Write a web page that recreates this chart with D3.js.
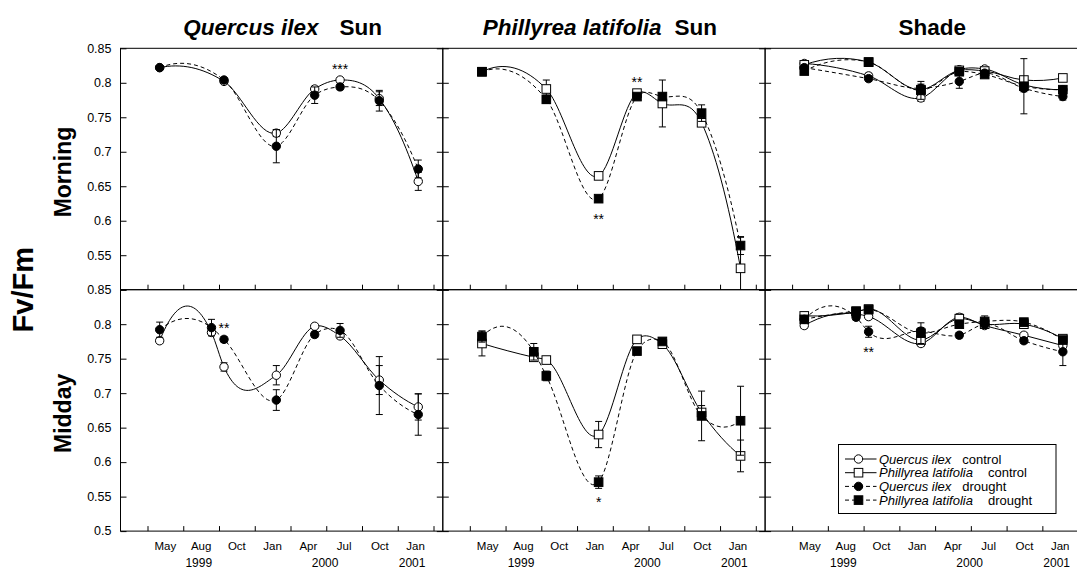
<!DOCTYPE html>
<html>
<head>
<meta charset="utf-8">
<script src="https://cdn.jsdelivr.net/npm/d3@7"></script>
<style>
  body { margin: 0; background: #fff; }
  svg text { font-family: "Liberation Sans", Arial, Helvetica, sans-serif; fill: #000; }
</style>
</head>
<body>
<svg id="chart" width="1077" height="570"></svg>
<script>
// ---- sampling dates (months since 1 Jan 1999) ----
const sampleMonths = [4.02, 8.37, 9.42, 13.81, 17.03, 19.16, 22.45, 25.72];

// ---- x axis: tick marks, quarter labels and year labels ----
const xTickMonths = [3, 6, 9, 12, 15, 18, 21, 24, 27];
const monthLabels = ["May", "Aug", "Oct", "Jan", "Apr", "Jul", "Oct", "Jan"];
const yearLabels = ["1999", "2000", "2001"];
const yearLabelMonths = [7.3, 17.9, 25.2];

// ---- y axis ----
const yTickValues = [0.5, 0.55, 0.6, 0.65, 0.7, 0.75, 0.8, 0.85];
const yLabelValuesTop = [0.55, 0.6, 0.65, 0.7, 0.75, 0.8, 0.85];
const yLabelValuesBottom = [0.5, 0.55, 0.6, 0.65, 0.7, 0.75, 0.8, 0.85];

// ---- Fv/Fm, morning: mean and standard error ----
const qiSunMorningCtrl   = [0.822, null, 0.802, 0.727, 0.791, 0.804, 0.777, 0.657];
const qiSunMorningCtrlSE = [0.003, null, 0.003, 0.005, 0.004, 0.003, 0.010, 0.013];
const qiSunMorningDry    = [0.822, null, 0.804, 0.708, 0.782, 0.794, 0.774, 0.675];
const qiSunMorningDrySE  = [0.003, null, 0.003, 0.024, 0.012, 0.004, 0.015, 0.013];

const plSunMorningCtrl   = [0.816, null, 0.791, 0.665, 0.785, 0.770, 0.742, 0.531];
const plSunMorningCtrlSE = [0.003, null, 0.013, 0.004, 0.004, 0.034, 0.004, 0.045];
const plSunMorningDry    = [0.816, null, 0.776, 0.632, 0.780, 0.780, 0.756, 0.564];
const plSunMorningDrySE  = [0.003, null, 0.006, 0.004, 0.004, 0.005, 0.012, 0.013];

const qiShadeMorningCtrl   = [0.828, null, 0.810, 0.778, 0.819, 0.820, 0.797, 0.790];
const qiShadeMorningCtrlSE = [0.004, null, 0.004, 0.005, 0.004, 0.003, 0.005, 0.004];
const plShadeMorningCtrl   = [0.826, null, 0.830, 0.790, 0.818, 0.817, 0.804, 0.807];
const plShadeMorningCtrlSE = [0.004, null, 0.004, 0.005, 0.004, 0.003, 0.005, 0.004];
const qiShadeMorningDry    = [0.822, null, 0.806, 0.792, 0.802, 0.814, 0.792, 0.780];
const qiShadeMorningDrySE  = [0.004, null, 0.004, 0.006, 0.010, 0.003, 0.005, 0.005];
const plShadeMorningDry    = [0.817, null, 0.830, 0.789, 0.816, 0.812, 0.795, 0.790];
const plShadeMorningDrySE  = [0.004, null, 0.004, 0.013, 0.004, 0.003, 0.040, 0.004];

// ---- Fv/Fm, midday: mean and standard error ----
const qiSunMiddayCtrl   = [0.776, 0.788, 0.738, 0.726, 0.797, 0.783, 0.719, 0.680];
const qiSunMiddayCtrlSE = [0.004, 0.004, 0.006, 0.014, 0.003, 0.004, 0.021, 0.019];
const qiSunMiddayDry    = [0.792, 0.795, 0.778, 0.690, 0.785, 0.791, 0.711, 0.669];
const qiSunMiddayDrySE  = [0.011, 0.012, 0.004, 0.015, 0.004, 0.010, 0.042, 0.030];

const plSunMiddayCtrl   = [0.772, 0.752, 0.748, 0.640, 0.778, 0.771, 0.672, 0.609];
const plSunMiddayCtrlSE = [0.018, 0.004, 0.004, 0.019, 0.004, 0.004, 0.010, 0.023];
const plSunMiddayDry    = [0.782, 0.760, 0.725, 0.571, 0.761, 0.775, 0.667, 0.660];
const plSunMiddayDrySE  = [0.008, 0.012, 0.007, 0.009, 0.004, 0.004, 0.036, 0.050];

const qiShadeMiddayCtrl   = [0.798, 0.815, 0.811, 0.772, 0.810, 0.798, 0.784, 0.769];
const qiShadeMiddayCtrlSE = [0.004, 0.004, 0.004, 0.004, 0.005, 0.004, 0.004, 0.004];
const plShadeMiddayCtrl   = [0.812, 0.818, 0.822, 0.777, 0.808, 0.800, 0.800, 0.779];
const plShadeMiddayCtrlSE = [0.004, 0.004, 0.004, 0.004, 0.004, 0.004, 0.004, 0.004];
const qiShadeMiddayDry    = [0.807, 0.810, 0.789, 0.790, 0.784, 0.800, 0.776, 0.760];
const qiShadeMiddayDrySE  = [0.004, 0.004, 0.008, 0.005, 0.004, 0.004, 0.004, 0.020];
const plShadeMiddayDry    = [0.807, 0.819, 0.821, 0.787, 0.800, 0.804, 0.803, 0.777];
const plShadeMiddayDrySE  = [0.004, 0.004, 0.004, 0.015, 0.004, 0.008, 0.004, 0.004];

// ---- significance of the drought effect ----
const sigMarks = [
  { col: 0, row: 0, idx: 5, text: "***", pos: "above" },
  { col: 1, row: 0, idx: 4, text: "**",  pos: "above" },
  { col: 1, row: 0, idx: 3, text: "**",  pos: "below" },
  { col: 0, row: 1, idx: 2, text: "**",  pos: "above" },
  { col: 1, row: 1, idx: 3, text: "*",   pos: "below" },
  { col: 2, row: 1, idx: 2, text: "**",  pos: "below" }
];

// ---- panel layout ----
const columnTitles = [
  { italic: "Quercus ilex", plain: "Sun", gap: 21, dx: 1 },
  { italic: "Phillyrea latifolia", plain: "Sun", gap: 13, dx: -4 },
  { italic: "", plain: "Shade", gap: 0, dx: 6 }
];
const rowTitles = ["Morning", "Midday"];

const series = (values, se, species, treat) => ({ values, se, species, treat });
const panels = [
  [ // morning
    [series(qiSunMorningCtrl, qiSunMorningCtrlSE, "q", "c"), series(qiSunMorningDry, qiSunMorningDrySE, "q", "d")],
    [series(plSunMorningCtrl, plSunMorningCtrlSE, "p", "c"), series(plSunMorningDry, plSunMorningDrySE, "p", "d")],
    [series(qiShadeMorningCtrl, qiShadeMorningCtrlSE, "q", "c"), series(plShadeMorningCtrl, plShadeMorningCtrlSE, "p", "c"),
     series(qiShadeMorningDry, qiShadeMorningDrySE, "q", "d"), series(plShadeMorningDry, plShadeMorningDrySE, "p", "d")]
  ],
  [ // midday
    [series(qiSunMiddayCtrl, qiSunMiddayCtrlSE, "q", "c"), series(qiSunMiddayDry, qiSunMiddayDrySE, "q", "d")],
    [series(plSunMiddayCtrl, plSunMiddayCtrlSE, "p", "c"), series(plSunMiddayDry, plSunMiddayDrySE, "p", "d")],
    [series(qiShadeMiddayCtrl, qiShadeMiddayCtrlSE, "q", "c"), series(plShadeMiddayCtrl, plShadeMiddayCtrlSE, "p", "c"),
     series(qiShadeMiddayDry, qiShadeMiddayDrySE, "q", "d"), series(plShadeMiddayDry, plShadeMiddayDrySE, "p", "d")]
  ]
];

const legendItems = [
  { name: "Quercus ilex", treatment: "control", species: "q", treat: "c", gap: 11 },
  { name: "Phillyrea latifolia", treatment: "control", species: "p", treat: "c", gap: 15 },
  { name: "Quercus ilex", treatment: "drought", species: "q", treat: "d", gap: 11 },
  { name: "Phillyrea latifolia", treatment: "drought", species: "p", treat: "d", gap: 15 }
];

// ---- geometry ----
const plotLeft = 120.5, plotTop = 48.3, panelW = 322.3, rowH = 241.4;

const x = d3.scaleLinear().domain([0.734, 27.78]).range([0, panelW]);
const y = d3.scaleLinear().domain([0.5, 0.85]).range([rowH, 0]);

// Piecewise cubic Hermite curve, y as a function of x; the slope at each point is
// that of the parabola through the point and its two neighbours.
function curveParabolicX(context) {
  let xs, ys;
  return {
    areaStart() {}, areaEnd() {},
    lineStart() { xs = []; ys = []; },
    point(px, py) { xs.push(+px); ys.push(+py); },
    lineEnd() {
      const n = xs.length;
      if (!n) return;
      context.moveTo(xs[0], ys[0]);
      if (n === 1) return;
      if (n === 2) { context.lineTo(xs[1], ys[1]); return; }
      const h = [], s = [], t = new Array(n);
      for (let i = 0; i < n - 1; i++) { h.push(xs[i + 1] - xs[i]); s.push((ys[i + 1] - ys[i]) / h[i]); }
      for (let i = 1; i < n - 1; i++) t[i] = (s[i - 1] * h[i] + s[i] * h[i - 1]) / (h[i - 1] + h[i]);
      t[0] = s[0] - (s[1] - s[0]) / (h[0] + h[1]) * h[0];
      t[n - 1] = s[n - 2] + (s[n - 2] - s[n - 3]) / (h[n - 3] + h[n - 2]) * h[n - 2];
      for (let i = 0; i < n - 1; i++) {
        context.bezierCurveTo(xs[i] + h[i] / 3, ys[i] + t[i] * h[i] / 3,
                              xs[i + 1] - h[i] / 3, ys[i + 1] - t[i + 1] * h[i] / 3,
                              xs[i + 1], ys[i + 1]);
      }
    }
  };
}

const line = d3.line().x(d => x(d.m)).y(d => y(d.v)).curve(curveParabolicX);
const dash = "4,3";
const circleR = 4.2, squareS = 8.6, capW = 3.5;

function drawMarker(g, species, treat, cx, cy) {
  const fill = treat === "c" ? "#fff" : "#000";
  if (species === "q") {
    g.append("circle").attr("cx", cx).attr("cy", cy).attr("r", circleR)
      .attr("fill", fill).attr("stroke", "#000").attr("stroke-width", 1);
  } else {
    g.append("rect").attr("x", cx - squareS / 2).attr("y", cy - squareS / 2)
      .attr("width", squareS).attr("height", squareS)
      .attr("fill", fill).attr("stroke", "#000").attr("stroke-width", 1);
  }
}

const svg = d3.select("#chart");

panels.forEach((rowPanels, row) => {
  rowPanels.forEach((panelSeries, col) => {
    const g = svg.append("g")
      .attr("transform", `translate(${plotLeft + col * panelW},${plotTop + row * rowH})`);

    // ticks: left and right pointing inward, bottom pointing up
    g.append("g").call(d3.axisLeft(y).tickValues(yTickValues).tickSize(-6).tickFormat(""))
      .call(s => s.select(".domain").remove());
    g.append("g").attr("transform", `translate(${panelW},0)`)
      .call(d3.axisRight(y).tickValues(yTickValues).tickSize(-6).tickFormat(""))
      .call(s => s.select(".domain").remove());
    g.append("g").attr("transform", `translate(0,${rowH})`)
      .call(d3.axisBottom(x).tickValues(xTickMonths).tickSize(-5).tickFormat(""))
      .call(s => s.select(".domain").remove());

    // frame
    g.append("rect").attr("width", panelW).attr("height", rowH)
      .attr("fill", "none").attr("stroke", "#000").attr("stroke-width", 1);

    // series: line, error bars, markers
    panelSeries.forEach(s => {
      const pts = s.values.map((v, i) => ({ m: sampleMonths[i], v, e: s.se[i] }))
        .filter(d => d.v !== null);
      g.append("path").attr("d", line(pts)).attr("fill", "none")
        .attr("stroke", "#000").attr("stroke-width", 1)
        .attr("stroke-dasharray", s.treat === "d" ? dash : null);
      const eb = g.append("g").attr("stroke", "#000").attr("stroke-width", 1);
      pts.forEach(d => {
        const cx = x(d.m);
        const lo = y(Math.max(0.5, d.v - d.e)), hi = y(d.v + d.e);
        eb.append("line").attr("x1", cx).attr("x2", cx).attr("y1", lo).attr("y2", hi);
        if (d.v - d.e >= 0.5)
          eb.append("line").attr("x1", cx - capW).attr("x2", cx + capW).attr("y1", lo).attr("y2", lo);
        eb.append("line").attr("x1", cx - capW).attr("x2", cx + capW).attr("y1", hi).attr("y2", hi);
      });
      const mg = g.append("g");
      pts.forEach(d => drawMarker(mg, s.species, s.treat, x(d.m), y(d.v)));
    });

    // significance asterisks
    sigMarks.filter(k => k.col === col && k.row === row).forEach(k => {
      const vals = panelSeries.map(s => s.values[k.idx]).filter(v => v !== null);
      const yy = k.pos === "above" ? y(d3.max(vals)) - 6 : y(d3.min(vals)) + 25;
      g.append("text").attr("x", x(sampleMonths[k.idx])).attr("y", yy)
        .attr("text-anchor", "middle").attr("font-size", 14).text(k.text);
    });

    // bottom axis labels
    if (row === 1) {
      monthLabels.forEach((lab, i) => {
        const mid = (xTickMonths[i] + xTickMonths[i + 1]) / 2;
        g.append("text").attr("x", x(mid)).attr("y", rowH + 18.5)
          .attr("text-anchor", "middle").attr("font-size", 11.5).text(lab);
      });
      yearLabels.forEach((lab, i) => {
        g.append("text").attr("x", x(yearLabelMonths[i])).attr("y", rowH + 35.5)
          .attr("text-anchor", "middle").attr("font-size", 12).text(lab);
      });
    }

    // y tick labels on the first column
    if (col === 0) {
      const vals = row === 0 ? yLabelValuesTop : yLabelValuesBottom;
      vals.forEach(v => {
        g.append("text").attr("x", -9).attr("y", y(v)).attr("dy", "0.35em")
          .attr("text-anchor", "end").attr("font-size", 12.5).text(d3.format("~g")(v));
      });
    }

    // column titles
    if (row === 0) {
      const t = columnTitles[col];
      const tx = g.append("text").attr("x", panelW / 2 + t.dx).attr("y", -13)
        .attr("text-anchor", "middle").attr("font-size", 22.5).attr("font-weight", "bold");
      if (t.italic) tx.append("tspan").attr("font-style", "italic").text(t.italic);
      tx.append("tspan").attr("dx", t.italic ? t.gap : 0).text(t.plain);
    }
  });
});

// row titles and shared y title
rowTitles.forEach((t, row) => {
  svg.append("text")
    .attr("transform", `translate(71,${plotTop + row * rowH + rowH / 2 + 3}) rotate(-90)`)
    .attr("text-anchor", "middle").attr("font-size", 23).attr("font-weight", "bold").text(t);
});
svg.append("text")
  .attr("transform", `translate(33,${plotTop + rowH}) rotate(-90)`)
  .attr("text-anchor", "middle").attr("font-size", 29).attr("font-weight", "bold").text("Fv/Fm");

// legend
const lg = svg.append("g").attr("transform", "translate(838.5,444.5)");
lg.append("rect").attr("width", 217.5).attr("height", 69)
  .attr("fill", "#fff").attr("stroke", "#000").attr("stroke-width", 1);
legendItems.forEach((it, i) => {
  const cy = 14.5 + i * 13.7;
  lg.append("line").attr("x1", 6.5).attr("x2", 38).attr("y1", cy).attr("y2", cy)
    .attr("stroke", "#000").attr("stroke-width", 1)
    .attr("stroke-dasharray", it.treat === "d" ? dash : null);
  drawMarker(lg, it.species, it.treat, 20, cy);
  const t = lg.append("text").attr("x", 40.5).attr("y", cy + 4.6).attr("font-size", 13);
  t.append("tspan").attr("font-style", "italic").text(it.name);
  t.append("tspan").attr("dx", it.gap).text(it.treatment);
});
</script>
</body>
</html>
